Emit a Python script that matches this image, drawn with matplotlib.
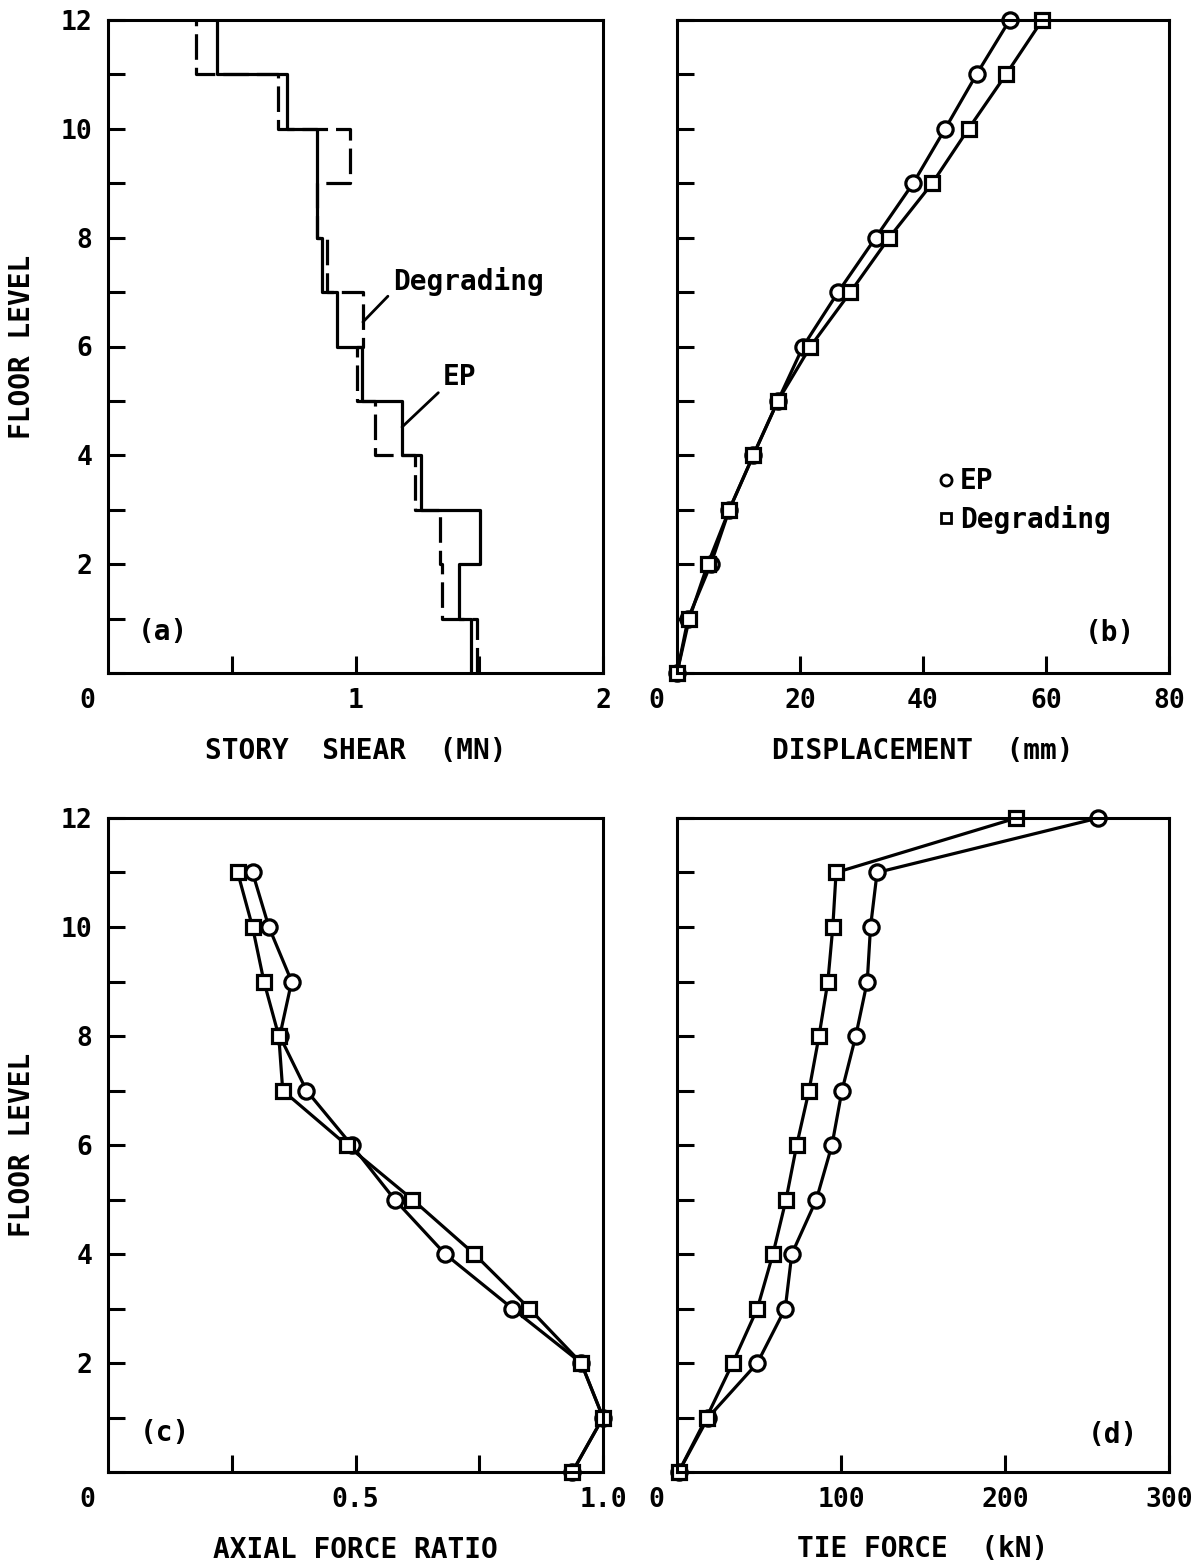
import numpy as np
import matplotlib.pyplot as plt
from matplotlib.lines import Line2D

plt.rcParams['font.family'] = ['DejaVu Sans Mono', 'DejaVu Sans']
plt.rcParams['font.weight'] = 'bold'
plt.rcParams['axes.labelweight'] = 'bold'

floors = np.arange(0, 13)

# (a) story shear per story 1..12 (MN)
shear_ep = [1.467, 1.418, 1.503, 1.265, 1.188, 1.026, 0.925, 0.863, 0.843, 0.843, 0.723, 0.440]
shear_deg = [1.491, 1.350, 1.341, 1.240, 1.079, 1.006, 1.030, 0.883, 0.845, 0.978, 0.687, 0.356]

# (b) displacement at floors 0..12 (mm)
disp_ep = [0, 1.8, 5.5, 8.5, 12.4, 16.4, 20.5, 26.2, 32.3, 38.4, 43.6, 48.7, 54.1]
disp_deg = [0, 2.0, 5.0, 8.5, 12.4, 16.4, 21.7, 28.2, 34.5, 41.5, 47.4, 53.5, 59.4]

# (c) axial force ratio at floors 0..11
axial_ep = [0.938, 1.0, 0.956, 0.817, 0.681, 0.579, 0.492, 0.401, 0.347, 0.371, 0.325, 0.292]
axial_deg = [0.938, 1.0, 0.956, 0.851, 0.740, 0.615, 0.482, 0.353, 0.345, 0.315, 0.292, 0.262]

# (d) tie force at floors 0..12 (kN)
tie_ep = [1, 19, 49, 66, 70, 85, 94.5, 100.6, 109, 116, 118, 122, 257]
tie_deg = [1, 18, 34, 49, 58.5, 66.5, 73, 80.5, 86.6, 92, 95, 97, 207]

W, H = 1196, 1562
fig = plt.figure(figsize=(W / 100, H / 100), dpi=100)


def box(l, r, t, b):
    return [l / W, 1 - b / H, (r - l) / W, (b - t) / H]


def style(ax, xmax, xticks, xlabels, xlabel, ylabels):
    ax.set_xlim(0, xmax)
    ax.set_ylim(0, 12)
    ax.set_yticks(floors)
    if ylabels:
        ax.set_yticklabels([str(f) if f % 2 == 0 and f > 0 else '' for f in floors])
    else:
        ax.set_yticklabels([])
    ax.set_xticks(xticks)
    ax.set_xticklabels(xlabels)
    ax.tick_params(direction='in', length=12, width=2.2, labelsize=19, pad=11,
                   top=False, right=False)
    for s in ax.spines.values():
        s.set_linewidth(2.2)
    ax.set_xlabel(xlabel, fontsize=20, labelpad=16)
    ax.annotate('0', xy=(0, 0), xycoords='axes fraction', xytext=(-15, -11),
                textcoords='offset points', ha='center', va='top', fontsize=19)


line_kw = dict(color='black', lw=2.3, clip_on=False)
circ = dict(marker='o', ms=11, mfc='white', mec='black', mew=2.3)
sqr = dict(marker='s', ms=9.5, mfc='white', mec='black', mew=2.3)

# (a) story shear
ax = fig.add_axes(box(108, 603, 20, 673))
ysteps = np.repeat(floors, 2)[1:-1]
ax.plot(np.repeat(shear_deg, 2), ysteps, color='black', lw=2.3, ls=(0, (8, 2.5)))
ax.plot(np.repeat(shear_ep, 2), ysteps, color='black', lw=2.3)
style(ax, 2, [0.5, 1, 1.5, 2], ['', '1', '', '2'], 'STORY  SHEAR  (MN)', True)
ax.annotate('Degrading', xy=(1.03, 6.45), xytext=(1.15, 7.2), fontsize=20,
            ha='left', va='center',
            arrowprops=dict(arrowstyle='-', lw=2, relpos=(0, 0.15), shrinkA=2, shrinkB=0))
ax.annotate('EP', xy=(1.188, 4.52), xytext=(1.354, 5.44), fontsize=20,
            ha='left', va='center',
            arrowprops=dict(arrowstyle='-', lw=2, relpos=(0, 0.1), shrinkA=2, shrinkB=0))
ax.text(0.111, 0.063, '(a)', transform=ax.transAxes, fontsize=20, ha='center', va='center')

# (b) displacement
ax = fig.add_axes(box(677, 1169, 20, 673))
ax.plot(disp_ep, floors, **line_kw, **circ)
ax.plot(disp_deg, floors, **line_kw, **sqr)
style(ax, 80, [20, 40, 60, 80], ['20', '40', '60', '80'], 'DISPLACEMENT  (mm)', False)
handles = [Line2D([], [], ls='none', marker='o', ms=8, mfc='white', mec='black', mew=2),
           Line2D([], [], ls='none', marker='s', ms=7, mfc='white', mec='black', mew=2)]
ax.legend(handles, ['EP', 'Degrading'], loc='upper left', bbox_to_anchor=(0.53, 0.315),
          frameon=False, fontsize=20, handlelength=0.6, handletextpad=0.2,
          labelspacing=0.35, borderpad=0, borderaxespad=0)
ax.text(0.88, 0.061, '(b)', transform=ax.transAxes, fontsize=20, ha='center', va='center')

# (c) axial force ratio
ax = fig.add_axes(box(108, 603, 818, 1472))
ax.plot(axial_ep, floors[:12], **line_kw, **circ)
ax.plot(axial_deg, floors[:12], **line_kw, **sqr)
style(ax, 1.0, [0.25, 0.5, 0.75, 1.0], ['', '0.5', '', '1.0'], 'AXIAL FORCE RATIO', True)
ax.text(0.115, 0.06, '(c)', transform=ax.transAxes, fontsize=20, ha='center', va='center')

# (d) tie force
ax = fig.add_axes(box(677, 1169, 818, 1472))
ax.plot(tie_ep, floors, **line_kw, **circ)
ax.plot(tie_deg, floors, **line_kw, **sqr)
style(ax, 300, [100, 200, 300], ['100', '200', '300'], 'TIE FORCE  (kN)', False)
ax.text(0.886, 0.057, '(d)', transform=ax.transAxes, fontsize=20, ha='center', va='center')

fig.text(22 / W, 1 - 347 / H, 'FLOOR LEVEL', rotation=90, fontsize=20, ha='center', va='center')
fig.text(22 / W, 1 - 1145 / H, 'FLOOR LEVEL', rotation=90, fontsize=20, ha='center', va='center')

fig.savefig('out.png', dpi=100)
